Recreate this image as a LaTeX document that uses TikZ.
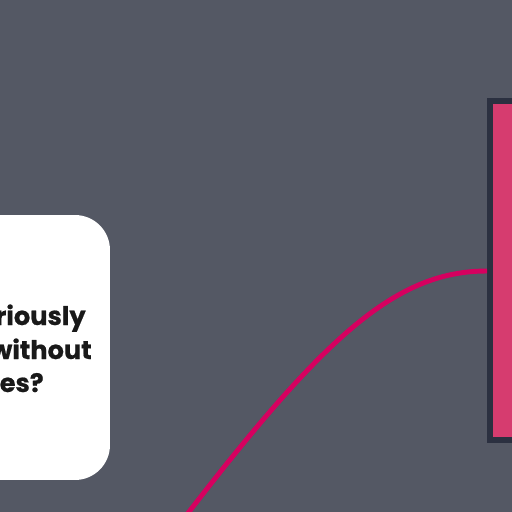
\documentclass[tikz,border=0pt]{standalone}
\usepackage{fontspec}
\setmainfont{Poppins}
\newfontfamily\qfont{Poppins}[BoldFeatures={FakeBold=0.6}]
\usepackage{xcolor}
\definecolor{slate}{HTML}{545864}
\definecolor{rim}{HTML}{2B3040}
\definecolor{rose}{HTML}{D63C6F}
\definecolor{wire}{HTML}{D6005F}
\tikzset{
  qbox/.style={fill=white,rounded corners=0.7cm,inner sep=0pt},
  qtext/.style={anchor=base east,inner sep=0pt,font=\qfont\fontsize{14.6}{18}\selectfont\bfseries,text=black!90},
  topicbox/.style={fill=rose,draw=rim,line width=3.4pt,inner sep=0pt}
}
\begin{document}
\begin{tikzpicture}[x=0.02cm,y=-0.02cm]
\useasboundingbox[fill=slate](0,0)rectangle(512,512);
\node[qbox,minimum width=5.2cm,minimum height=5.3cm] (question) at (-20,347.5) {};
\node[qtext] (l1) at (86,325) {riously};
\node[qtext] (l2) at (92,359) {without};
\node[qtext] (l3) at (44,392) {tes?};
\node[topicbox,minimum width=2.2cm,minimum height=6.78cm] (topic) at (545,270.5) {};
\coordinate (tail) at (100,630);
\draw[wire,line width=2.8pt](topic.west|-0,271) .. controls (380,271) and (300,360) .. (tail);
\end{tikzpicture}
\end{document}
